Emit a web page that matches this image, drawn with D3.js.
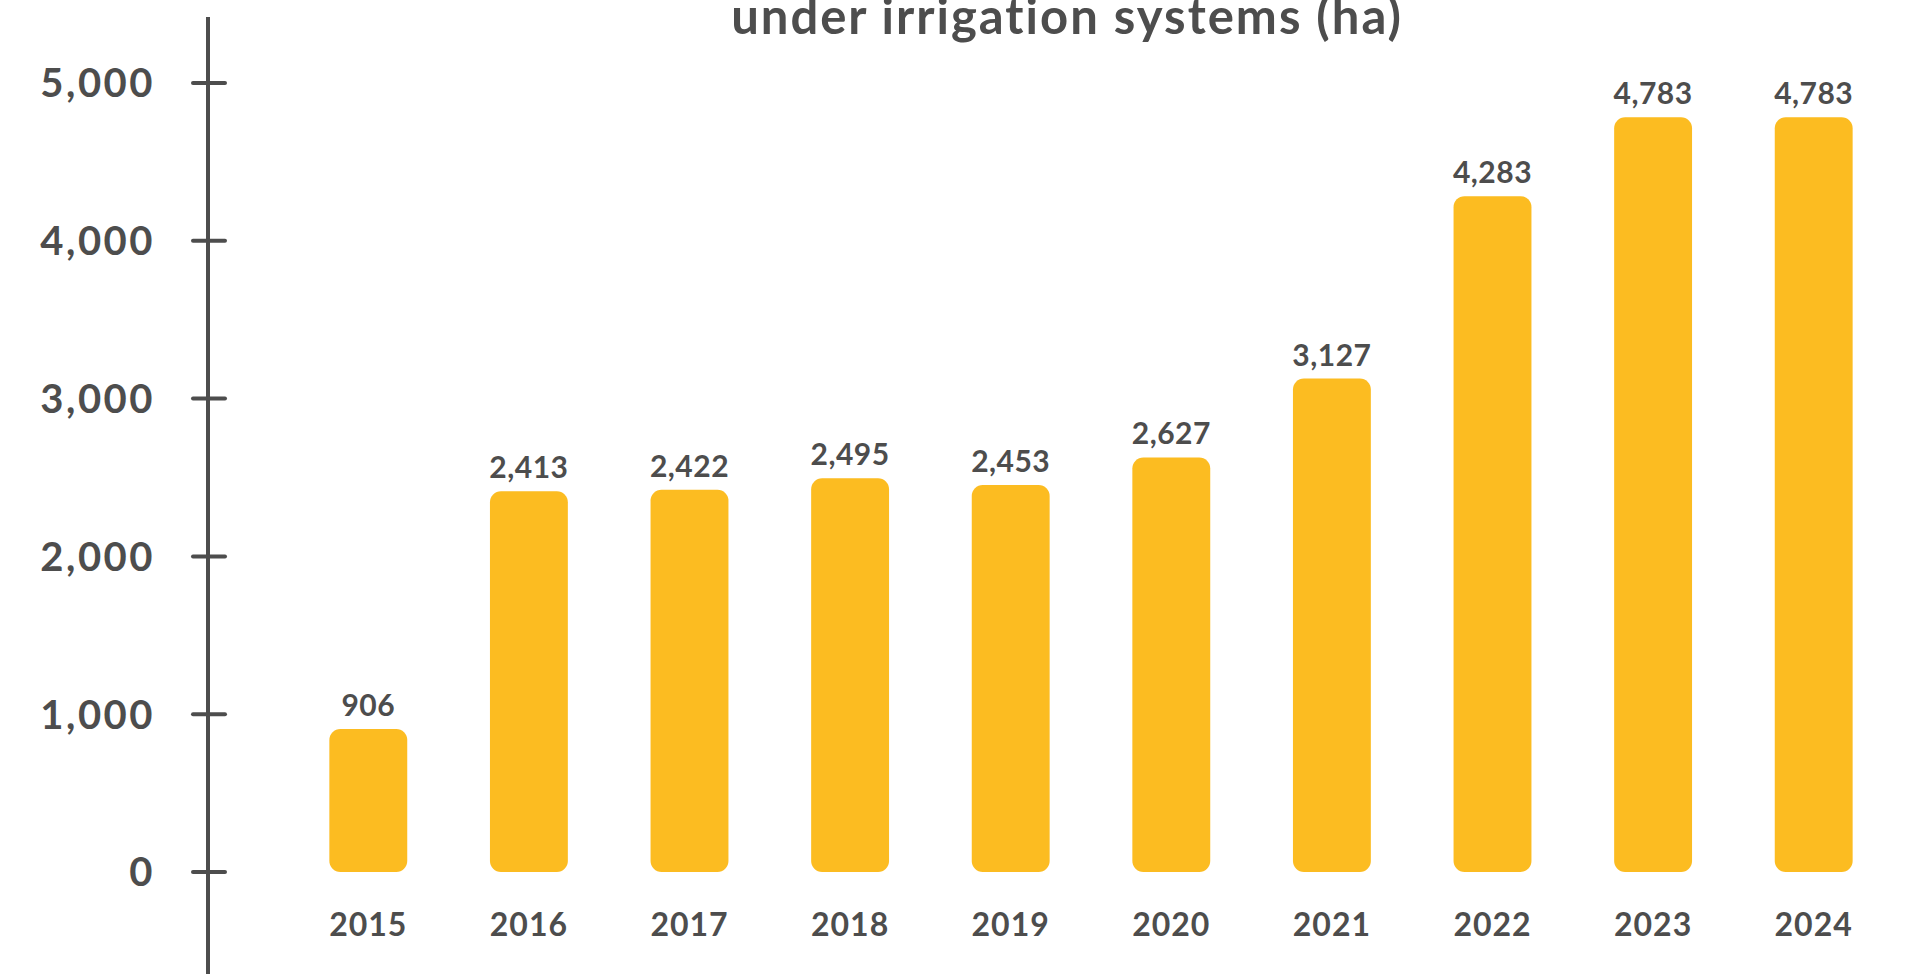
<!DOCTYPE html>
<html>
<head>
<meta charset="utf-8">
<script src="https://cdn.jsdelivr.net/npm/d3@7"></script>
<style>
    html, body { margin: 0; padding: 0; background: #fff; overflow: hidden; }
    text { font-family: Lato, "Open Sans", sans-serif; font-weight: 700; fill: #4d4d4d; }
</style>
</head>
<body>
<div id="chart"></div>
<script>
var years = ['2015', '2016', '2017', '2018', '2019', '2020', '2021', '2022', '2023', '2024'];
var hectares = [906, 2413, 2422, 2495, 2453, 2627, 3127, 4283, 4783, 4783];
var yTicks = [0, 1000, 2000, 3000, 4000, 5000];
var titleLine = 'under irrigation systems (ha)';

(function () {
    'use strict';
    var width = 1927,
        height = 974,
        axisX = 208,
        ink = '#4d4d4d',
        barColor = '#fcbc21';

    var svg = d3.select('#chart')
        .append('svg')
        .attr('width', width)
        .attr('height', height);

    var x = d3.scaleBand()
        .domain(years)
        .range([288, 1894])
        .paddingInner(0.515)
        .paddingOuter(0.2575);

    var y = d3.scaleLinear()
        .domain([0, 5000])
        .range([872, 83]);

    // title (first line sits above the visible area)
    svg.append('text')
        .attr('x', 1067)
        .attr('y', 34)
        .attr('text-anchor', 'middle')
        .style('font-size', '49px')
        .style('letter-spacing', '2px')
        .text(titleLine);

    // y axis: long vertical rule with crossing ticks
    svg.append('line')
        .attr('x1', axisX).attr('x2', axisX)
        .attr('y1', 17).attr('y2', height)
        .attr('stroke', ink)
        .attr('stroke-width', 4);

    var tick = svg.append('g')
        .selectAll('g')
        .data(yTicks)
        .enter().append('g')
        .attr('transform', function (d) { return 'translate(0,' + y(d) + ')'; });

    tick.append('line')
        .attr('x1', axisX - 15).attr('x2', axisX + 17)
        .attr('stroke', ink)
        .attr('stroke-width', 4)
        .attr('stroke-linecap', 'round');

    tick.append('text')
        .attr('x', 155)
        .attr('dy', '0.36em')
        .attr('text-anchor', 'end')
        .style('font-size', '40px')
        .style('letter-spacing', '2.5px')
        .text(d3.format(','));

    // bars with rounded corners
    svg.append('g')
        .selectAll('rect')
        .data(hectares)
        .enter().append('rect')
        .attr('x', function (d, i) { return x(years[i]); })
        .attr('y', function (d) { return y(d); })
        .attr('width', x.bandwidth())
        .attr('height', function (d) { return y(0) - y(d); })
        .attr('rx', 11)
        .attr('fill', barColor);

    svg.append('g')
        .selectAll('text')
        .data(hectares)
        .enter().append('text')
        .attr('x', function (d, i) { return x(years[i]) + x.bandwidth() / 2; })
        .attr('y', function (d) { return y(d) - 13; })
        .attr('text-anchor', 'middle')
        .style('font-size', '30px')
        .style('letter-spacing', '0.5px')
        .text(d3.format(','));

    svg.append('g')
        .selectAll('text')
        .data(years)
        .enter().append('text')
        .attr('x', function (d) { return x(d) + x.bandwidth() / 2; })
        .attr('y', 936)
        .attr('text-anchor', 'middle')
        .style('font-size', '32px')
        .style('letter-spacing', '1px')
        .text(function (d) { return d; });
})();
</script>
</body>
</html>
